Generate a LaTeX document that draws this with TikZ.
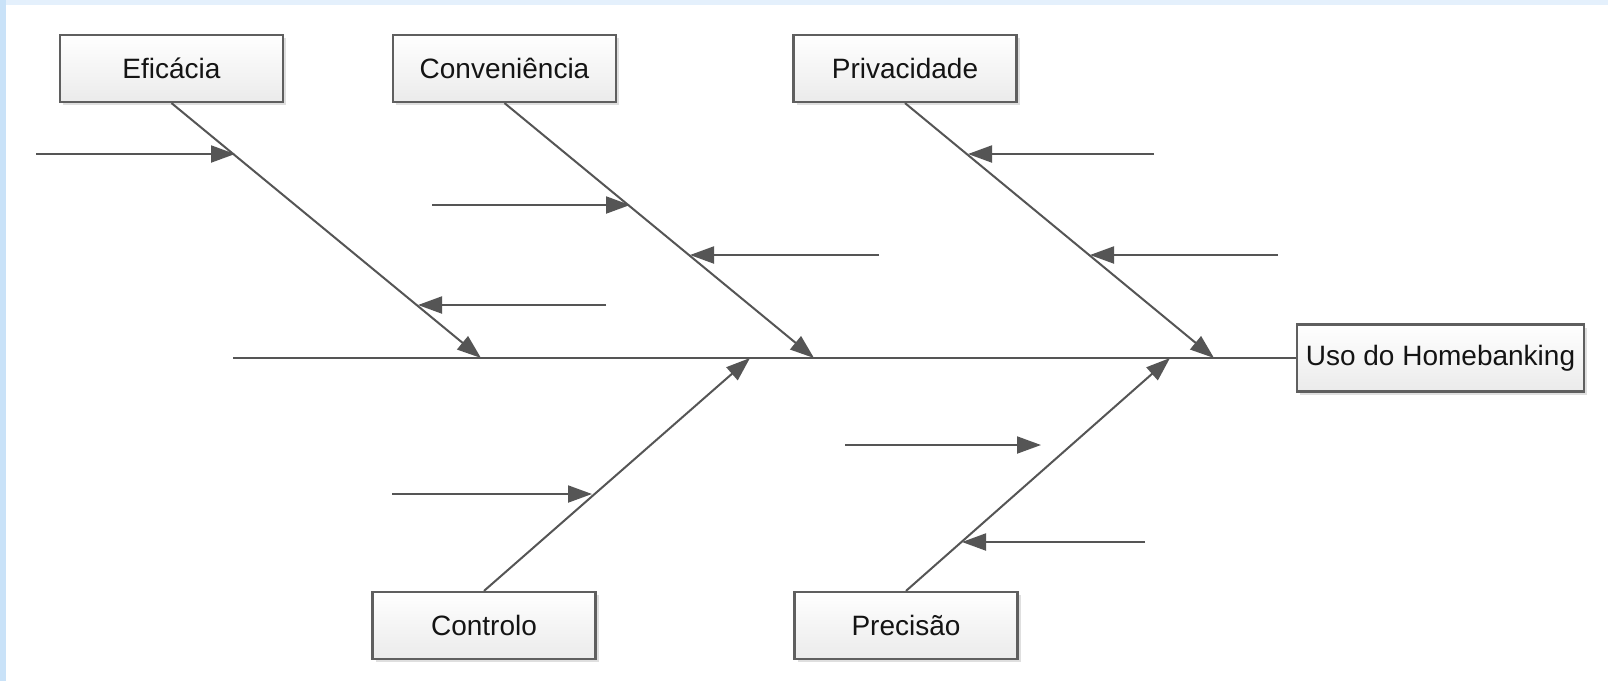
\documentclass[tikz,border=0pt]{standalone}
\usepackage{fontspec}
\setmainfont{Liberation Sans}
\usetikzlibrary{arrows.meta,shadows}
\definecolor{linegray}{HTML}{555555}
\definecolor{boxborder}{HTML}{5F5F5F}
\definecolor{bgleft}{HTML}{C9E2F8}
\definecolor{bgtop}{HTML}{E4F0FC}
\begin{document}
\begin{tikzpicture}[x=1pt,y=-1pt,
  cause/.style={draw=boxborder, line width=2.2pt, top color=white, bottom color=black!8,
    minimum width=223pt, minimum height=67pt, inner sep=0pt,
    font=\fontsize{28}{33}\selectfont, text=black!92,
    drop shadow={shadow xshift=3pt, shadow yshift=-3pt, opacity=0.25, fill=black!50}},
  bone/.style={draw=linegray, line width=2pt, -{Triangle[length=24pt,width=17pt,fill=linegray]}},
  sub/.style={draw=linegray, line width=2pt, -{Triangle[length=24pt,width=17pt,fill=linegray]}}]
\useasboundingbox (0,0) rectangle (1608,681);
\fill[bgleft] (0,0) rectangle (1608,681);
\fill[bgtop] (6,0) rectangle (1608,5);
\fill[white] (6,5) rectangle (1608,681);

% cause boxes
\node[cause] (eff) at (171.5,68.5) {Eficácia};
\node[cause] (conv) at (504.5,68.5) {Conveniência};
\node[cause] (priv) at (905,68.5) {Privacidade};
\node[cause] (ctrl) at (484,625.5) {Controlo};
\node[cause] (prec) at (906,625.5) {Precisão};
\node[cause, minimum width=287pt] (uso) at (1440.5,358) {Uso do Homebanking};

% spine
\coordinate (spstart) at (233,358);
\draw[draw=linegray, line width=2pt] (spstart) -- (uso.west);

% bone end points on spine
\coordinate (b1) at (481,358);
\coordinate (b2) at (814,358);
\coordinate (b3) at (1214,358);
\coordinate (b4) at (750,358);
\coordinate (b5) at (1170,358);

\draw[bone] (eff.south) -- (b1);
\draw[bone] (conv.south) -- (b2);
\draw[bone] (priv.south) -- (b3);
\draw[bone] (ctrl.north) -- (b4);
\draw[bone] (prec.north) -- (b5);

% sub-cause arrows
\coordinate (s1a) at (36,154);   \coordinate (s1b) at (235,154);
\coordinate (s2a) at (606,305);  \coordinate (s2b) at (418,305);
\coordinate (s3a) at (432,205);  \coordinate (s3b) at (630,205);
\coordinate (s4a) at (879,255);  \coordinate (s4b) at (690,255);
\coordinate (s5a) at (1154,154); \coordinate (s5b) at (968,154);
\coordinate (s6a) at (1278,255); \coordinate (s6b) at (1090,255);
\coordinate (s7a) at (392,494);  \coordinate (s7b) at (592,494);
\coordinate (s8a) at (845,445);  \coordinate (s8b) at (1041,445);
\coordinate (s9a) at (1145,542); \coordinate (s9b) at (962,542);

\draw[sub] (s1a) -- (s1b);
\draw[sub] (s2a) -- (s2b);
\draw[sub] (s3a) -- (s3b);
\draw[sub] (s4a) -- (s4b);
\draw[sub] (s5a) -- (s5b);
\draw[sub] (s6a) -- (s6b);
\draw[sub] (s7a) -- (s7b);
\draw[sub] (s8a) -- (s8b);
\draw[sub] (s9a) -- (s9b);
\end{tikzpicture}
\end{document}
